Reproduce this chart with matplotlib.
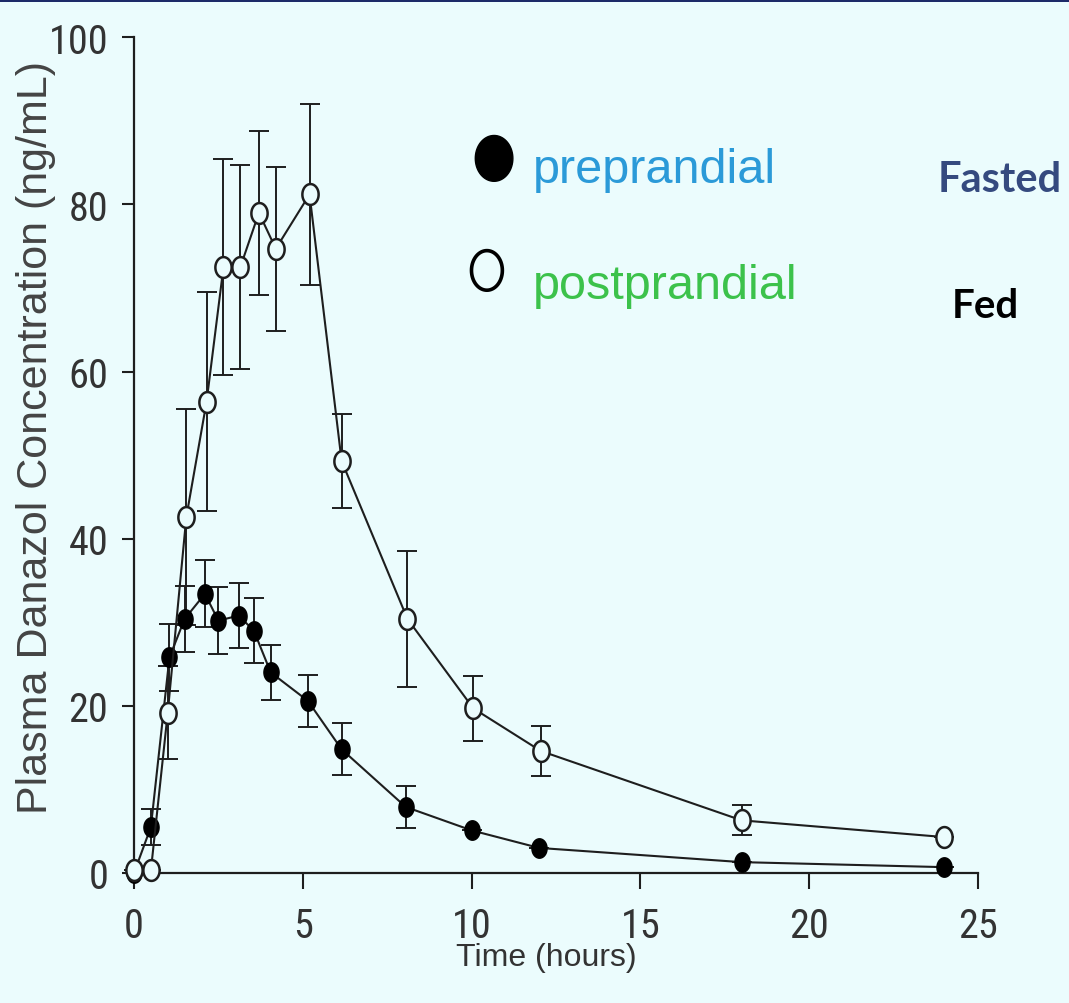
import numpy as np
import matplotlib
matplotlib.use("Agg")
import matplotlib.pyplot as plt
from matplotlib import font_manager
from matplotlib.path import Path
from matplotlib.lines import Line2D
from matplotlib.patches import Rectangle

# Plasma danazol concentration (ng/mL) versus time (hours), mean +/- SD
time_fasted = [0, 0.5, 1.05, 1.5, 2.1, 2.5, 3.1, 3.55, 4.05, 5.15, 6.15, 8.05, 10, 12, 18, 24]
conc_fasted = [0, 5.5, 25.8, 30.4, 33.4, 30.2, 30.8, 29.0, 24.0, 20.6, 14.8, 7.9, 5.1, 3.0, 1.3, 0.7]
sd_fasted = [0, 2.2, 4.0, 4.0, 4.0, 4.0, 3.9, 3.9, 3.3, 3.1, 3.1, 2.5, 0, 0, 0, 0]

time_fed = [0, 0.5, 1.0, 1.55, 2.15, 2.65, 3.15, 3.7, 4.2, 5.2, 6.15, 8.1, 10.05, 12.05, 18, 24]
conc_fed = [0.3, 0.3, 19.2, 42.6, 56.4, 72.5, 72.5, 79.0, 74.7, 81.2, 49.3, 30.4, 19.7, 14.6, 6.3, 4.3]
sd_fed = [0, 0, 5.6, 12.9, 13.1, 12.9, 12.2, 9.8, 9.8, 10.8, 5.6, 8.1, 3.9, 3.0, 1.8, 0]

x_ticks = [0, 5, 10, 15, 20, 25]
y_ticks = [0, 20, 40, 60, 80, 100]
series_labels = ["preprandial", "postprandial"]
series_colors = ["#2b9ad8", "#3cc24b"]
side_labels = ["Fasted", "Fed"]

W, H = 1069, 1004
BG = "#ebfcfd"
INK = "#1e1e1e"
TEXT_FONT = ["Liberation Sans", "DejaVu Sans"]

# prefer a condensed face for the tick numbers when one is available
installed = {f.name for f in font_manager.fontManager.ttflist}
narrow = next((n for n in ("Liberation Sans Narrow", "Arial Narrow", "Roboto Condensed")
               if n in installed), None)
if narrow:
    TICK_FONT, TICK_SIZE = [narrow, "DejaVu Sans"], 29
else:
    TICK_FONT, TICK_SIZE = TEXT_FONT, 27


def ellipse_marker(aspect, dx=0.0, dy=0.0):
    """Upright ellipse marker; dx/dy shift it (in radii) from the anchor point."""
    t = np.linspace(0, 2 * np.pi, 73)
    verts = np.column_stack([aspect * np.cos(t) + dx, np.sin(t) + dy])
    return Path(verts, closed=True)


dot = ellipse_marker(0.78)

fig = plt.figure(figsize=(W / 100, H / 100), dpi=100, facecolor=BG)
ax = fig.add_axes([134 / W, 1 - 874 / H, (978 - 134) / W, (874 - 38.3) / H])
ax.set_facecolor(BG)

# dark band along the top edge
fig.patches.append(Rectangle((0, 1 - 3 / H), 1, 3 / H, transform=fig.transFigure,
                             facecolor="#1c2a68", edgecolor="none", zorder=10))

# fasted (filled) series
ax.errorbar(time_fasted, conc_fasted, yerr=sd_fasted, fmt="none", ecolor=INK,
            elinewidth=1.4, capsize=7.2, capthick=1.4, zorder=2, clip_on=False)
ax.plot(time_fasted, conc_fasted, color=INK, lw=1.5, zorder=3, clip_on=False,
        marker=dot, markersize=14, markerfacecolor="black", markeredgecolor="black",
        markeredgewidth=1.0)

# fed (open) series
ax.errorbar(time_fed, conc_fed, yerr=sd_fed, fmt="none", ecolor=INK,
            elinewidth=1.4, capsize=7.2, capthick=1.4, zorder=2, clip_on=False)
ax.plot(time_fed, conc_fed, color=INK, lw=1.5, zorder=4, clip_on=False,
        marker=dot, markersize=15, markerfacecolor=BG, markeredgecolor=INK,
        markeredgewidth=1.8)

ax.set_xlim(0, 25)
ax.set_ylim(0, 100)
ax.set_xticks(x_ticks)
ax.set_yticks(y_ticks)
ax.set_xticklabels([str(v) for v in x_ticks])
ax.set_yticklabels([str(v) for v in y_ticks])

for side in ("top", "right"):
    ax.spines[side].set_visible(False)
for side in ("left", "bottom"):
    ax.spines[side].set_linewidth(1.6)
    ax.spines[side].set_color(INK)

ax.tick_params(axis="y", direction="out", length=8.6, width=1.5, color=INK, pad=10,
               labelsize=TICK_SIZE, labelcolor="#333333")
ax.tick_params(axis="x", direction="out", length=11.5, width=1.5, color=INK, pad=12,
               labelsize=TICK_SIZE, labelcolor="#333333")
for lab in ax.get_xticklabels() + ax.get_yticklabels():
    lab.set_family(TICK_FONT)

ax.set_xlabel("Time (hours)", fontsize=23, family=TEXT_FONT, color="#333333")
ax.xaxis.set_label_coords(0.489, -0.083)
ax.set_ylabel("Plasma Danazol Concentration (ng/mL)", fontsize=31, family=TEXT_FONT,
              color="#444444")
ax.yaxis.set_label_coords(-0.093, 0.522)

# legend: symbols sit a little above the middle of their label
handles = [
    Line2D([], [], linestyle="none", marker=ellipse_marker(0.82, dx=0.2, dy=0.31),
           markersize=33 * 1.31, markerfacecolor="black", markeredgecolor="black"),
    Line2D([], [], linestyle="none", marker=ellipse_marker(0.78, dx=-0.13, dy=0.56),
           markersize=28.5 * 1.56, markerfacecolor="none", markeredgecolor="black",
           markeredgewidth=2.6),
]
leg = ax.legend(handles, series_labels, loc="center left",
                bbox_to_anchor=(465 / W, 1 - 228.5 / H), bbox_transform=fig.transFigure,
                frameon=False, prop={"family": TEXT_FONT, "size": 35},
                handlelength=1.0, handletextpad=0.4, labelspacing=1.47,
                borderpad=0, borderaxespad=0, labelcolor=series_colors)

# feeding-state annotations
fig.text(999.5 / W, 1 - 192 / H, side_labels[0], ha="center", va="baseline",
         fontsize=30, fontweight="bold", family=["Lato", "DejaVu Sans"], color="#354a7f")
fig.text(985 / W, 1 - 318 / H, side_labels[1], ha="center", va="baseline",
         fontsize=29, fontweight="bold", family=["Lato", "DejaVu Sans"], color="black")

fig.savefig("out.png", dpi=100, facecolor=BG)
